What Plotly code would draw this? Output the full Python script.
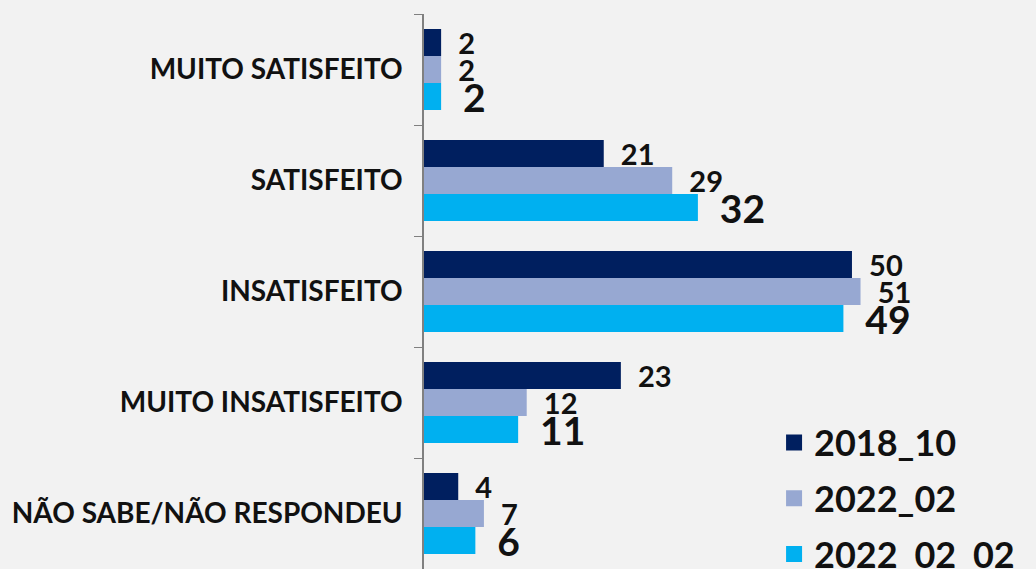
import plotly.graph_objects as go

categorias = ["MUITO SATISFEITO", "SATISFEITO", "INSATISFEITO",
              "MUITO INSATISFEITO", "NÃO SABE/NÃO RESPONDEU"]
series = ["2018_10", "2022_02", "2022_02_02"]
valores_2018_10 = [2, 21, 50, 23, 4]
valores_2022_02 = [2, 29, 51, 12, 7]
valores_2022_02_02 = [2, 32, 49, 11, 6]

CORES = ["#001f5f", "#97a8d2", "#00b0f0"]
TAM_TEXTO = [29, 29, 39]
FONTE = "Lato"
BG = "#f2f2f2"

fig = go.Figure()
for nome, vals, cor, tam in zip(series, [valores_2018_10, valores_2022_02, valores_2022_02_02],
                                CORES, TAM_TEXTO):
    fig.add_trace(go.Bar(
        x=vals, y=categorias,
        orientation="h",
        name=nome,
        marker=dict(color=cor, line=dict(width=0)),
        text=[f"\u00a0\u00a0{v}" for v in vals],
        textposition="outside",
        textfont=dict(family=FONTE, size=tam, color="#111111", weight="bold"),
        constraintext="none",
        cliponaxis=False,
        showlegend=False,
    ))
    # marcador quadrado para a legenda
    fig.add_trace(go.Scatter(
        x=[None], y=[None], mode="markers", name=nome, legendgroup=nome,
        marker=dict(symbol="square", size=24, color=cor),
    ))

fig.update_layout(
    width=1036, height=569,
    paper_bgcolor=BG, plot_bgcolor=BG,
    barmode="group", bargap=0.27, bargroupgap=0,
    margin=dict(l=424, r=0, t=14, b=0, autoexpand=False),
    font=dict(family=FONTE, color="#111111"),
    xaxis=dict(range=[0, 71.5], visible=False, showgrid=False, zeroline=False),
    yaxis=dict(
        autorange="reversed",
        showline=True, linecolor="#808080", linewidth=1.5,
        ticks="outside", tickson="boundaries", ticklen=8, tickcolor="#808080",
        ticklabelstandoff=14,
        tickfont=dict(family=FONTE, size=28, color="#111111", weight="bold"),
        showgrid=False, zeroline=False,
    ),
    legend=dict(
        x=0.572, y=-0.028, xanchor="left", yanchor="bottom",
        bgcolor="rgba(0,0,0,0)",
        font=dict(family=FONTE, size=36, color="#111111", weight="bold"),
        tracegroupgap=6,
    ),
)

fig.write_html("out.html", config={"displayModeBar": False},
               post_script="document.body.style.margin='0';")
